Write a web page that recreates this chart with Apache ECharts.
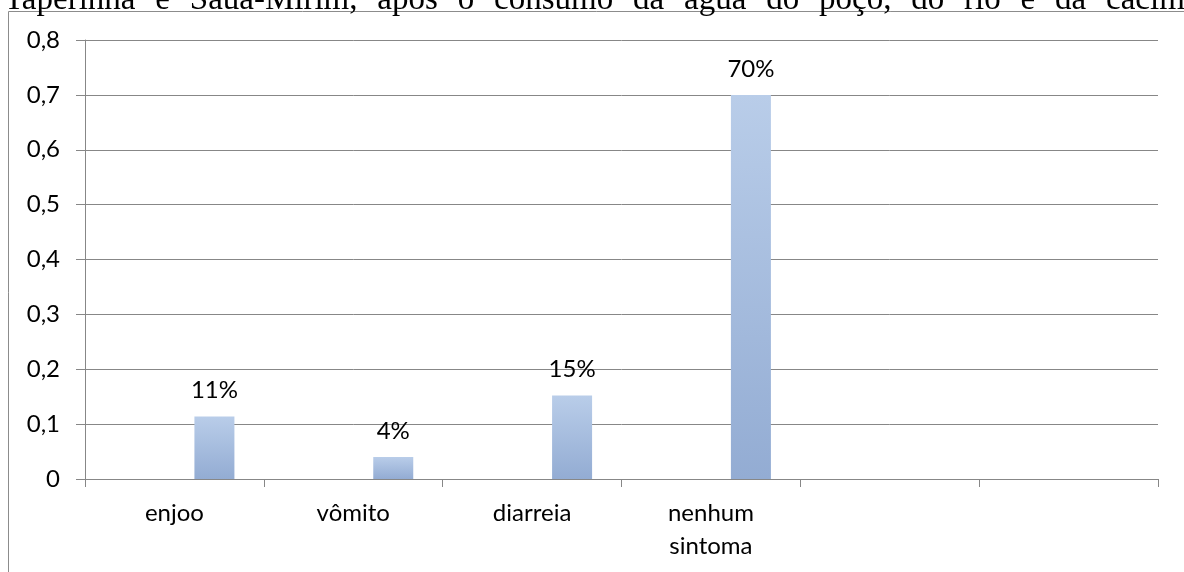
<!DOCTYPE html>
<html>
<head>
<meta charset="utf-8">
<script src="https://cdn.jsdelivr.net/npm/echarts@6/dist/echarts.min.js"></script>
<style>
  html, body { margin: 0; padding: 0; background: #fff; overflow: hidden; }
  #wrap { position: relative; width: 1184px; height: 572px; overflow: hidden; }
  #chart { position: absolute; left: 0; top: 0; width: 1184px; height: 572px; }
  #linha {
    position: absolute; left: 4px; top: -18px; width: 1212px;
    font-family: "Liberation Serif", "Times New Roman", serif; font-size: 33px;
    line-height: 33px; color: #000;
    text-align: justify; text-align-last: justify; white-space: normal;
  }
</style>
</head>
<body>
<div id="wrap">
  <div id="chart"></div>
  <div id="linha">Taperinha e Saúa-Mirim, após o consumo da água do poço, do rio e da cacimba</div>
</div>
<script>
// Sintomas relatados (proporção dos entrevistados)
const categorias = ['enjoo', 'vômito', 'diarreia', 'nenhum\nsintoma', '', ''];
const serie1 = ['-', '-', '-', '-', '-', '-'];
const serie2 = ['-', '-', '-', '-', '-', '-'];
const serie3 = [0.114, 0.04, 0.152, 0.70, '-', '-'];
const yMin = 0, yMax = 0.8, yPasso = 0.1;

const fonte = 'Lato, "Open Sans", sans-serif';
const cinza = '#878787';

const chart = echarts.init(document.getElementById('chart'), null, { renderer: 'canvas' });

const barra = (nome, dados) => ({
  name: nome,
  type: 'bar',
  data: dados,
  barWidth: 40,
  barGap: '0%',
  itemStyle: {
    color: new echarts.graphic.LinearGradient(0, 0, 0, 1, [
      { offset: 0, color: '#B9CDE9' },
      { offset: 1, color: '#93ACD3' }
    ])
  },
  label: {
    show: true,
    position: 'top',
    distance: 14,
    fontFamily: fonte,
    fontSize: 24,
    color: '#000',
    formatter: p => Math.round(p.value * 100) + '%'
  }
});

chart.setOption({
  animation: false,
  backgroundColor: '#fff',
  grid: { left: 85, right: 26, top: 40, bottom: 93, containLabel: false },
  graphic: [{
    type: 'rect',
    shape: { x: 8.5, y: 11.5, width: 1400, height: 800 },
    style: { fill: 'none', stroke: '#8c8c8c', lineWidth: 1 },
    silent: true,
    z: -1
  }],
  xAxis: {
    type: 'category',
    data: categorias,
    boundaryGap: true,
    axisLine: { show: true, lineStyle: { color: cinza, width: 1 } },
    axisTick: { show: true, length: 8, alignWithLabel: false, interval: 0, lineStyle: { color: cinza } },
    axisLabel: {
      interval: 0, margin: 18, fontFamily: fonte, fontSize: 24, color: '#000', lineHeight: 33
    }
  },
  yAxis: {
    type: 'value',
    min: yMin, max: yMax, interval: yPasso,
    axisLine: { show: true, lineStyle: { color: cinza, width: 1 } },
    axisTick: { show: true, length: 9, lineStyle: { color: cinza } },
    splitLine: { show: true, lineStyle: { color: cinza, width: 1 } },
    axisLabel: {
      margin: 25, fontFamily: fonte, fontSize: 24, color: '#000',
      formatter: v => v === 0 ? '0' : v.toFixed(1).replace('.', ',')
    }
  },
  series: [
    Object.assign(barra('s1', serie1), { label: { show: false } }),
    Object.assign(barra('s2', serie2), { label: { show: false } }),
    barra('s3', serie3)
  ]
});
</script>
</body>
</html>
